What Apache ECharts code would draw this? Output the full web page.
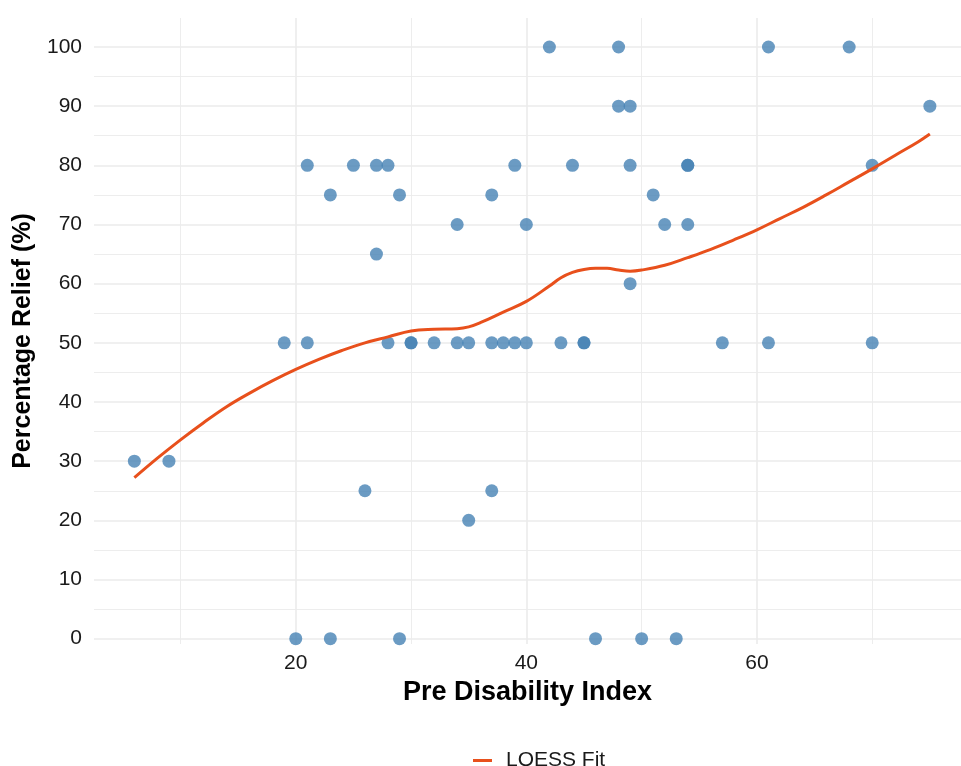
<!DOCTYPE html>
<html>
<head>
<meta charset="utf-8">
<script src="https://cdn.jsdelivr.net/npm/echarts@6/dist/echarts.min.js"></script>
<style>
html,body{margin:0;padding:0;background:#fff;}
#chart{width:961px;height:766px;}
</style>
</head>
<body>
<div id="chart"></div>
<script>
// Scatter data: Pre Disability Index (x) and Percentage Relief (y)
const preIndex = [42,48,61,68, 48,49,75, 21,25,27,28,39,44,49,54,54,70, 23,29,37,51, 34,40,52,54, 27, 49,
  19,21,28,30,30,32,34,35,37,38,39,40,43,45,45,57,61,70, 6,9, 26,37, 35, 20,23,29,46,50,53];
const relief = [100,100,100,100, 90,90,90, 80,80,80,80,80,80,80,80,80,80, 75,75,75,75, 70,70,70,70, 65, 60,
  50,50,50,50,50,50,50,50,50,50,50,50,50,50,50,50,50,50, 30,30, 25,25, 20, 0,0,0,0,0,0];

// LOESS fit curve
const loessX = [6,8,10,12,14,16,18,20,22,24,26,28,30,32,34,35,36,38,40,42,43,44,45,46,47,48,49,50,52,54,56,58,60,62,64,66,68,70,72,74,75];
const loessY = [27.2,30.5,33.6,36.5,39.2,41.5,43.6,45.5,47.2,48.7,50.0,51.0,52.0,52.3,52.4,52.7,53.4,55.2,57.0,59.6,61.0,61.9,62.4,62.6,62.6,62.3,62.1,62.3,63.1,64.4,65.8,67.4,69.1,71.0,72.9,75.0,77.2,79.4,81.7,84.0,85.3];

// Tick labels and grid positions
const xMajorTicks = [20,40,60];
const xMinorTicks = [10,30,50,70];
const yMajorTicks = [0,10,20,30,40,50,60,70,80,90,100];
const yMinorTicks = [5,15,25,35,45,55,65,75,85,95];

const FONT = 'Liberation Sans, Arial, Helvetica, sans-serif';
const GRID_COLOR = '#ebebeb';

const scatterData = preIndex.map((x,i)=>[x, relief[i]]);
const loessData = loessX.map((x,i)=>[x, loessY[i]]);

function gridLines(){
  const d = [];
  xMajorTicks.forEach(v=>d.push({xAxis:v, lineStyle:{width:1.6}}));
  xMinorTicks.forEach(v=>d.push({xAxis:v, lineStyle:{width:0.9}}));
  yMajorTicks.forEach(v=>d.push({yAxis:v, lineStyle:{width:1.6}}));
  yMinorTicks.forEach(v=>d.push({yAxis:v, lineStyle:{width:0.9}}));
  return d;
}

const chart = echarts.init(document.getElementById('chart'), null, {renderer:'canvas'});
chart.setOption({
  animation:false,
  backgroundColor:'#ffffff',
  textStyle:{fontFamily:FONT},
  grid:{left:94, right:0, top:18, bottom:122},
  xAxis:{
    type:'value', min:2.5, max:77.7,
    axisLine:{show:false}, axisTick:{show:false}, splitLine:{show:false},
    axisLabel:{customValues:xMajorTicks, fontSize:21, color:'#1a1a1a', margin:9, fontFamily:FONT},
    name:'Pre Disability Index', nameLocation:'middle', nameGap:28,
    nameTextStyle:{fontSize:27, fontWeight:'bold', color:'#000', fontFamily:FONT}
  },
  yAxis:{
    type:'value', min:-0.9, max:104.9,
    axisLine:{show:false}, axisTick:{show:false}, splitLine:{show:false},
    axisLabel:{customValues:yMajorTicks, fontSize:21, color:'#1a1a1a', margin:12, fontFamily:FONT},
    name:'Percentage Relief (%)', nameLocation:'middle', nameGap:46,
    nameTextStyle:{fontSize:25, fontWeight:'bold', color:'#000', fontFamily:FONT, padding:[0,20,0,0]}
  },
  legend:{
    data:[{name:'LOESS Fit', icon:'rect'}],
    left:468, top:745,
    itemWidth:19, itemHeight:3,
    textStyle:{fontSize:21, color:'#1a1a1a', fontFamily:FONT, padding:[0,0,0,9]}
  },
  series:[
    {
      name:'grid', type:'line', data:[], silent:true, z:0,
      markLine:{silent:true, z:0, symbol:'none', label:{show:false},
        lineStyle:{color:GRID_COLOR, type:'solid'}, data:gridLines(), animation:false}
    },
    {
      name:'Points', type:'scatter', data:scatterData, symbolSize:13, z:2,
      itemStyle:{color:'#4682B4', opacity:0.8}
    },
    {
      name:'LOESS Fit', type:'line', data:loessData, showSymbol:false, smooth:0.4, z:3,
      lineStyle:{color:'#E8501C', width:3}, itemStyle:{color:'#E8501C'}
    }
  ]
});
</script>
</body>
</html>
